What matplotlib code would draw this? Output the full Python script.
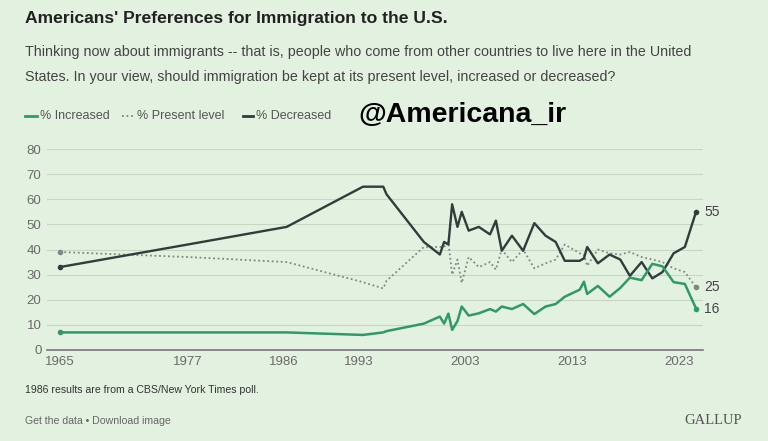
import matplotlib
matplotlib.use('Agg')
import matplotlib.pyplot as plt

# survey dates (decimal years)
years = [1965.0, 1977.0, 1986.25, 1993.4, 1995.3, 1995.6, 1999.1, 2000.6,
         2001.0, 2001.4, 2001.75, 2002.25, 2002.65, 2003.3, 2004.25, 2005.3,
         2005.85, 2006.4, 2007.35, 2008.4, 2009.45, 2010.5, 2011.45, 2012.3,
         2013.7, 2014.1, 2014.4, 2015.4, 2016.5, 2017.5, 2018.4, 2019.5,
         2020.5, 2021.45, 2022.5, 2023.55, 2024.6]
increased = [7, 7, 7, 6, 7, 7.5, 10.5, 13.3, 10.5, 14.5, 8, 11.5, 17.3, 13.7,
             14.6, 16.3, 15.3, 17.3, 16.3, 18.3, 14.3, 17.3, 18.3, 21.2, 24,
             27.2, 22.3, 25.5, 21.2, 24.7, 28.8, 27.8, 34.3, 33.3, 27, 26.3,
             16.5]
present = [39, 37, 35, 27, 24.5, 27.5, 41, 41, 41, 43, 30, 36, 26.7, 37, 33,
           35, 32, 40, 35, 40, 32.5, 34.5, 36, 42, 38.5, 38, 33.5, 40, 38.5,
           38, 39, 37, 36, 35, 32.5, 31, 25]
decreased = [33, 42, 49, 65, 65, 62, 43, 38, 43, 42, 58, 49, 55, 47.5, 49, 46,
             51.5, 39.5, 45.5, 39.5, 50.5, 45.5, 43, 35.5, 35.5, 36.5, 41,
             34.5, 38, 36, 29.5, 35, 28.5, 31, 38.5, 41, 55]
end_labels = ['16', '25', '55']
xticks = [1965, 1977, 1986, 1993, 2003, 2013, 2023]
yticks = [0, 10, 20, 30, 40, 50, 60, 70, 80]

bg = '#e3f1e0'
green = '#2f9a68'
grey = '#7e8884'
dark = '#2f3d3c'

plt.rcParams['font.family'] = ['Liberation Sans', 'DejaVu Sans']

fig = plt.figure(figsize=(7.68, 4.41), dpi=100, facecolor=bg)
ax = fig.add_axes([47 / 768, 91 / 441, 656 / 768, 201 / 441])
ax.set_facecolor(bg)

ax.plot(years, decreased, color=dark, lw=1.7, zorder=3)
ax.plot(years, present, color=grey, lw=1.3, ls=(0, (1, 1.5)), zorder=2)
ax.plot(years, increased, color=green, lw=1.8, zorder=4)

for ser, c in [(decreased, dark), (present, grey), (increased, green)]:
    ax.plot([years[0], years[-1]], [ser[0], ser[-1]], 'o', color=c, ms=3,
            zorder=5)

for ser, lab in zip([increased, present, decreased], end_labels):
    ax.annotate(lab, (years[-1], ser[-1]), xytext=(6, 0),
                textcoords='offset points', va='center', ha='left',
                fontsize=10, color='#444444')

ax.set_xlim(1963.8, 2025.25)
ax.set_ylim(0, 80)
ax.set_xticks(xticks)
ax.set_yticks(yticks)
ax.tick_params(length=0, labelsize=9.5, colors='#6a6a6a', pad=4)
ax.grid(axis='y', color='#c9d6c6', lw=0.8)
ax.set_axisbelow(True)
for s in ['top', 'right', 'left']:
    ax.spines[s].set_visible(False)
ax.spines['bottom'].set_color('#777777')
ax.spines['bottom'].set_linewidth(1.2)

fig.text(25 / 768, 1 - 19 / 441, "Americans' Preferences for Immigration to the U.S.",
         fontsize=12.6, fontweight='bold', color='#222222', va='center')
fig.text(25 / 768, 1 - 52 / 441,
         "Thinking now about immigrants -- that is, people who come from other countries to live here in the United",
         fontsize=10.3, color='#444444', va='center')
fig.text(25 / 768, 1 - 77 / 441,
         "States. In your view, should immigration be kept at its present level, increased or decreased?",
         fontsize=10.3, color='#444444', va='center')

# legend
ly = 1 - 116 / 441
fig.add_artist(plt.Line2D([25 / 768, 37 / 768], [ly, ly], color=green, lw=2))
fig.text(40 / 768, ly, '% Increased', fontsize=9, color='#555555', va='center')
fig.add_artist(plt.Line2D([122 / 768, 134 / 768], [ly, ly], color=grey, lw=1.3,
                          ls=(0, (1, 1.5))))
fig.text(137 / 768, ly, '% Present level', fontsize=9, color='#555555', va='center')
fig.add_artist(plt.Line2D([243 / 768, 253 / 768], [ly, ly], color=dark, lw=2))
fig.text(256 / 768, ly, '% Decreased', fontsize=9, color='#555555', va='center')

fig.text(358 / 768, 1 - 115 / 441, '@Americana_ir', fontsize=20.5,
         fontweight='bold', color='black', va='center')

fig.text(25 / 768, 1 - 390 / 441, '1986 results are from a CBS/New York Times poll.',
         fontsize=7.6, color='#333333', va='center')
fig.text(25 / 768, 1 - 421 / 441, 'Get the data \u2022 Download image',
         fontsize=7.6, color='#666666', va='center')
fig.text(742 / 768, 1 - 420 / 441, 'GALLUP', fontsize=10.5, color='#555555',
         va='center', ha='right', family=['Liberation Serif', 'DejaVu Serif'])

fig.savefig('out.png', dpi=100, facecolor=bg)
